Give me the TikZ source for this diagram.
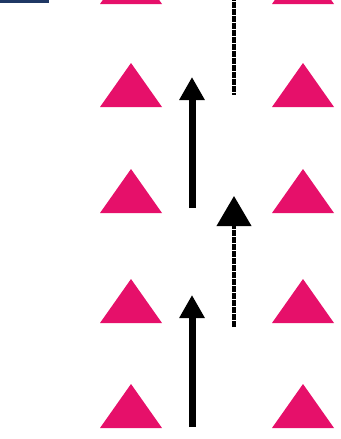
\documentclass[tikz,border=0pt]{standalone}
\usetikzlibrary{arrows.meta}
\definecolor{pinkc}{HTML}{E6106A}
\definecolor{navyc}{HTML}{1F3864}
\tikzset{
  tri/.pic={\fill[pinkc] (-31,0) -- (31,0) -- (0,-44) -- cycle;},
  solidarrow/.style={line width=7pt,-{Triangle[width=24pt,length=23pt]}},
  roughline/.style={line width=4pt,dash pattern=on 3pt off 0.5pt},
  roughhead/.style={-{Triangle[width=34pt,length=30pt]}}
}
\begin{document}
\begin{tikzpicture}[x=1pt,y=-1pt]
\useasboundingbox (0,0) rectangle (340,439);
\draw[navyc,line width=3pt] (0,1.5) -- (49,1.5);
\foreach \yb in {4,107,213,323,428}{
  \pic at (131,\yb) {tri};
  \pic at (303,\yb) {tri};
}
\coordinate (a1s) at (192,208);
\coordinate (a1e) at (192,77);
\coordinate (a2s) at (192,427);
\coordinate (a2e) at (192,295);
\draw[solidarrow] (a1s) -- (a1e);
\draw[solidarrow] (a2s) -- (a2e);
\coordinate (d1s) at (234,-2);
\coordinate (d1e) at (234,95);
\coordinate (d2s) at (234,327);
\coordinate (d2e) at (234,196);
\draw[roughline] (d1s) -- (d1e);
\draw[roughline,roughhead] (d2s) -- (d2e);
\end{tikzpicture}
\end{document}
